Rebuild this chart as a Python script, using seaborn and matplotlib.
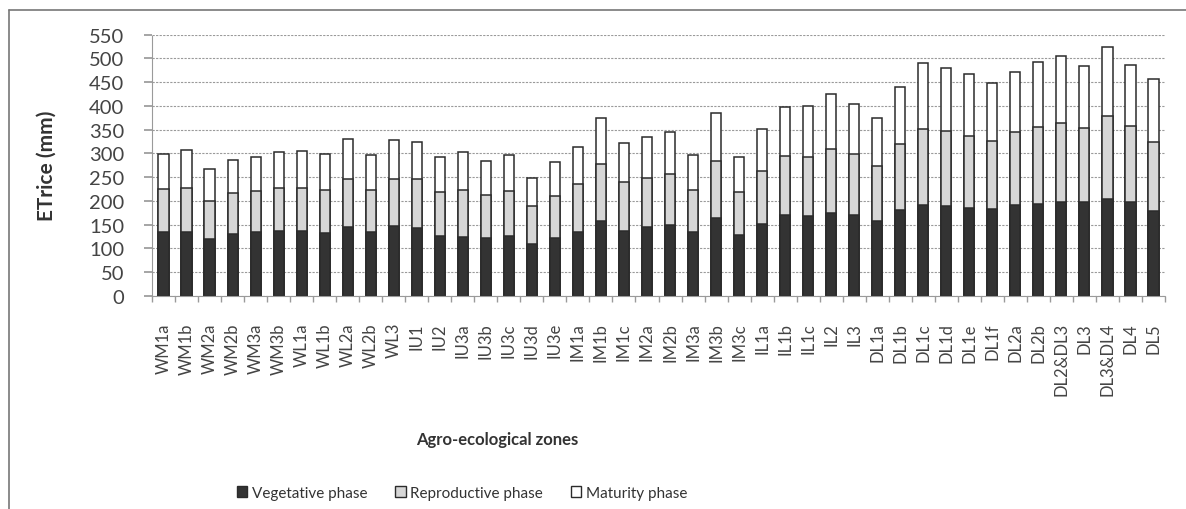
import pandas as pd
import matplotlib.pyplot as plt
import matplotlib.patches as mpatches
from matplotlib.lines import Line2D
import seaborn as sns

# Agro-ecological zones and ETrice per growth phase (mm)
zones = ['WM1a', 'WM1b', 'WM2a', 'WM2b', 'WM3a', 'WM3b', 'WL1a', 'WL1b', 'WL2a', 'WL2b', 'WL3',
         'IU1', 'IU2', 'IU3a', 'IU3b', 'IU3c', 'IU3d', 'IU3e',
         'IM1a', 'IM1b', 'IM1c', 'IM2a', 'IM2b', 'IM3a', 'IM3b', 'IM3c',
         'IL1a', 'IL1b', 'IL1c', 'IL2', 'IL3',
         'DL1a', 'DL1b', 'DL1c', 'DL1d', 'DL1e', 'DL1f', 'DL2a', 'DL2b', 'DL2&DL3',
         'DL3', 'DL3&DL4', 'DL4', 'DL5']
vegetative = [135, 135, 120, 131, 135, 136, 136, 133, 144, 134, 146,
              142, 126, 124, 122, 125, 110, 122,
              135, 158, 137, 145, 148, 134, 164, 127,
              152, 171, 169, 174, 170,
              157, 181, 191, 189, 184, 182, 191, 193, 197,
              197, 203, 197, 178]
reproductive = [90, 93, 80, 85, 86, 91, 92, 89, 101, 89, 100,
                103, 93, 99, 90, 96, 78, 89,
                100, 119, 103, 104, 108, 89, 120, 92,
                110, 124, 123, 135, 129,
                117, 139, 160, 158, 153, 144, 153, 162, 166,
                156, 175, 160, 145]
maturity = [74, 78, 66, 70, 72, 75, 76, 76, 85, 73, 82,
            78, 73, 79, 71, 76, 59, 71,
            79, 97, 82, 86, 88, 74, 100, 73,
            89, 103, 108, 115, 106,
            100, 120, 139, 133, 130, 122, 128, 138, 143,
            130, 147, 130, 133]

df = pd.DataFrame({'zone': zones, 'veg': vegetative,
                   'rep': reproductive, 'mat': maturity})
df['veg_rep'] = df['veg'] + df['rep']
df['total'] = df['veg_rep'] + df['mat']

sns.set_theme(style="white")
plt.rcParams['font.family'] = ['Lato', 'DejaVu Sans']

fig = plt.figure(figsize=(11.86, 5.10), dpi=100)
ax = fig.add_axes([152/1186, 1 - 296.7/510, (1165 - 152)/1186, (296.7 - 35.7)/510])

edge = '#2b2b2b'
w = 0.44
# layered bars: total (white), veg+rep (light grey), veg (dark)
sns.barplot(data=df, x='zone', y='total', color='white', edgecolor=edge,
            linewidth=1.1, width=w, saturation=1, errorbar=None, ax=ax)
sns.barplot(data=df, x='zone', y='veg_rep', color='#d6d6d6', edgecolor=edge,
            linewidth=1.1, width=w, saturation=1, errorbar=None, ax=ax)
sns.barplot(data=df, x='zone', y='veg', color='#333333', edgecolor=edge,
            linewidth=1.1, width=w, saturation=1, errorbar=None, ax=ax)

ax.set_ylim(0, 550)
ax.set_xlim(-0.5, len(zones) - 0.5)
ax.set_yticks(range(0, 551, 50))
ax.yaxis.grid(True, color='#9a9a9a', linestyle=(0, (2, 1.2)), linewidth=0.8)
ax.set_axisbelow(True)

for s in ['top', 'right']:
    ax.spines[s].set_visible(False)
for s in ['left', 'bottom']:
    ax.spines[s].set_color('#9a9a9a')
    ax.spines[s].set_linestyle((0, (1.5, 1)))
    ax.spines[s].set_linewidth(0.8)

ax.tick_params(axis='y', which='major', length=6, color='#9a9a9a', pad=14,
               labelsize=14.5, labelcolor='#444444', left=True)
ax.tick_params(axis='x', which='major', length=0, pad=19, labelsize=12,
               labelcolor='#444444', rotation=90)
ax.set_xticks([i - 0.5 for i in range(len(zones) + 1)], minor=True)
ax.tick_params(axis='x', which='minor', length=4, color='#9a9a9a', bottom=True)

ax.set_ylabel('ETrice (mm)', fontsize=15, fontweight='bold', color='#333333')
ax.set_xlabel('Agro-ecological zones', fontsize=12, fontweight='bold', color='#333333')
ax.xaxis.set_label_coords((497 - 152) / (1165 - 152), -(432 - 296.7) / 261)
ax.yaxis.set_label_coords(-(152 - 57) / (1165 - 152), 0.5)

handles = [mpatches.Patch(facecolor='#333333', edgecolor=edge, label='Vegetative phase'),
           mpatches.Patch(facecolor='#d6d6d6', edgecolor=edge, label='Reproductive phase'),
           mpatches.Patch(facecolor='white', edgecolor=edge, label='Maturity phase')]
fig.legend(handles=handles, loc='center', bbox_to_anchor=(462/1186, 1 - 494/510),
           ncol=3, frameon=False, fontsize=11, handlelength=0.7, handleheight=0.7,
           handletextpad=0.3, columnspacing=1.8, labelcolor='#333333')

# outer chart frame (top and left edges visible in the scan)
fig.add_artist(Line2D([9/1186, 1.0], [1 - 11/510, 1 - 11/510], color='#777777', lw=1.2))
fig.add_artist(Line2D([9/1186, 9/1186], [0.0, 1 - 11/510], color='#777777', lw=1.2))

fig.savefig('out.png', dpi=100)
